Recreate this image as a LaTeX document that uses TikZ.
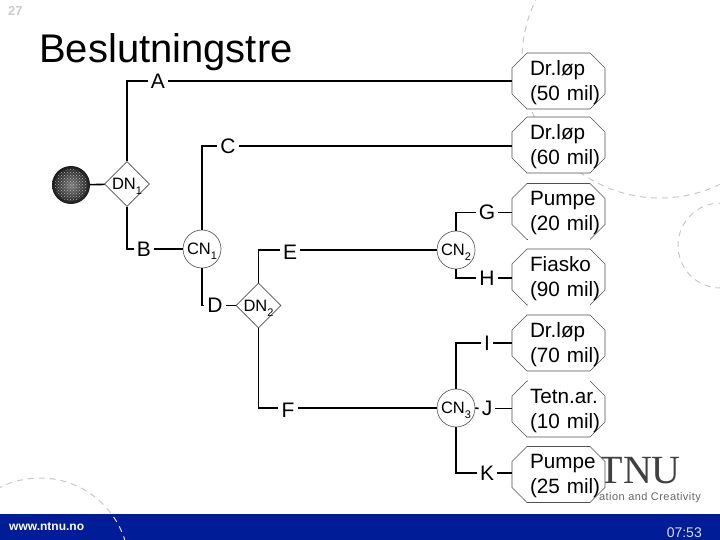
\documentclass[tikz,border=0pt]{standalone}
\usepackage{fontspec}
\setmainfont{Liberation Sans}
\newfontfamily\serifl{Liberation Serif}
\usetikzlibrary{shapes.geometric,patterns,calc}
\definecolor{barblue}{HTML}{001C96}
\definecolor{dashgray}{HTML}{C8C8C8}
\definecolor{thinline}{HTML}{505050}
\newcommand\lowsub[1]{\raisebox{-5pt}[0pt][0pt]{\fontsize{11}{11}\selectfont #1}}
\newcommand\outcomebox[4]{%
  \draw[draw=thinline,line width=.6pt,fill=white]
    (512,#2-13) -- (527,#2-28) -- (590,#2-28) -- (605,#2-13) -- (605,#2+13) -- (590,#2+28) -- (527,#2+28) -- (512,#2+13) -- cycle;
  \node[outcome] (#1) at (558.5,#2) {\hspace*{18pt}#3\\\hspace*{18pt}#4};}
\tikzset{
  x=1pt,y=-1pt,
  bgdash/.style={dash pattern=on 6pt off 5pt,line width=1pt},
  conn/.style={line width=1.6pt,black},
  decision/.style={diamond,draw=thinline,line width=.6pt,fill=white,minimum width=45pt,minimum height=45pt,inner sep=0pt,font=\fontsize{16.5}{16.5}\selectfont},
  chance/.style={circle,draw=thinline,line width=.6pt,fill=white,minimum size=38pt,inner sep=0pt,font=\fontsize{16.5}{16.5}\selectfont},
  outcome/.style={rectangle,minimum height=56pt,inner sep=0pt,text width=93pt,align=left,yshift=-2pt,font=\fontsize{20.7}{25}\selectfont},
  lab/.style={inner xsep=3pt,inner ysep=0pt,font=\fontsize{21}{21}\selectfont},
  gapfix/.style={white,line width=1.5pt},
}
\begin{document}
\begin{tikzpicture}
\useasboundingbox (0,0) rectangle (720,540);
\fill[white] (0,0) rectangle (720,540);
\begin{scope}
\clip (0,0) rectangle (720,514);
\draw[dashgray,bgdash] (660,60) circle[radius=138];
\draw[dashgray,bgdash] (720.5,245.5) circle[radius=42.5];
\draw[dashgray,bgdash] (40,567) circle[radius=89];
\end{scope}
\fill[barblue] (0,514) rectangle (720,540);
\begin{scope}
\clip (0,514) rectangle (720,540);
\draw[white!85!barblue,bgdash] (40,567) circle[radius=89];
\end{scope}
\node[anchor=base west,inner sep=0pt,text=white,font=\fontsize{12}{12}\selectfont\bfseries] (web) at (9,530) {www.ntnu.no};
\node[anchor=base east,inner sep=0pt,text=white!85!barblue,font=\fontsize{14}{14}\selectfont] (clock) at (702,537) {07:53};
\node[anchor=base west,inner sep=0pt,text=black!20!white,font=\fontsize{13}{13}\selectfont\bfseries] (num) at (8,16) {27};
\node[anchor=base west,inner sep=0pt,font=\fontsize{40}{40}\selectfont] (title) at (39,63) {Beslutningstre};
\node[anchor=base east,inner sep=0pt,text=black!75,font=\serifl\fontsize{40}{40}\selectfont] (logo) at (681,483) {TNU};
\node[anchor=base east,inner sep=0pt,text=black!60,font=\fontsize{11}{11}\selectfont\addfontfeature{LetterSpace=4}] (claim) at (701,500) {ation and Creativity};

\node[circle,minimum size=38pt,inner sep=0pt,inner color=black!50,outer color=black!90] (start) at (71,185) {};
\fill[pattern=crosshatch dots,pattern color=white!70!black] (start.center) circle[radius=16];
\node[decision] (dn1) at (127,184) {DN\lowsub{1}};
\node[chance] (cn1) at (202,249) {CN\lowsub{1}};
\node[decision] (dn2) at (258.5,305.5) {DN\lowsub{2}};
\node[chance] (cn2) at (456,250) {CN\lowsub{2}};
\node[chance] (cn3) at (456,408) {CN\lowsub{3}};

\outcomebox{b1}{81}{Dr.løp}{(50 mil)}
\outcomebox{b2}{145}{Dr.løp}{(60 mil)}
\outcomebox{b3}{211.5}{Pumpe}{(20 mil)}
\outcomebox{b4}{277}{Fiasko}{(90 mil)}
\outcomebox{b5}{343}{Dr.løp}{(70 mil)}
\outcomebox{b6}{409}{Tetn.ar.}{(10 mil)}
\outcomebox{b7}{474.5}{Pumpe}{(25 mil)}

\draw[gapfix] ($(b3.south)+(-31,-2)$) -- ($(b3.south)+(31,-2)$);
\draw[gapfix] ($(b4.south)+(-31,-2)$) -- ($(b4.south)+(31,-2)$);
\draw[gapfix] ($(b6.north)+(-31,-2)$) -- ($(b6.north)+(31,-2)$);

\node[lab] (A) at (158,81) {A};
\node[lab] (C) at (228,146) {C};
\node[lab] (B) at (144,249) {B};
\node[lab] (D) at (215,305.5) {D};
\node[lab] (E) at (290,252) {E};
\node[lab] (F) at (288,410) {F};
\node[lab] (G) at (487,212.5) {G};
\node[lab] (H) at (487,278) {H};
\node[lab] (I) at (487,343) {I};
\node[lab] (J) at (487,408.5) {J};
\node[lab] (K) at (487,473) {K};

\draw[conn] (start) -- (dn1);
\draw[conn] (dn1.north) |- (A.west);
\draw[conn] (A.east) -- (A.east -| b1.west);
\draw[conn] (dn1.south) |- (B.west);
\draw[conn] (B.east) -- (cn1.west);
\draw[conn] (cn1.north) |- (C.west);
\draw[conn] (C.east) -- (C.east -| b2.west);
\draw[conn] (cn1.south) |- (D.west);
\draw[conn] (D.east) -- (dn2.west);
\draw[conn] (dn2.north) |- (E.west |- cn2);
\draw[conn] (E.east |- cn2) -- (cn2.west);
\draw[conn] (dn2.south) |- (F.west |- cn3);
\draw[conn] (F.east |- cn3) -- (cn3.west);
\draw[conn] (cn2.north) |- (G.west);
\draw[conn] (G.east) -- (G.east -| b3.west);
\draw[conn] (cn2.south) |- (H.west);
\draw[conn] (H.east) -- (H.east -| b4.west);
\draw[conn] (cn3.north) |- (I.west);
\draw[conn] (I.east) -- (I.east -| b5.west);
\draw[conn] (cn3.east) -- (J.west);
\draw[conn] (J.east) -- (J.east -| b6.west);
\draw[conn] (cn3.south) |- (K.west);
\draw[conn] (K.east) -- (K.east -| b7.west);
\end{tikzpicture}
\end{document}
